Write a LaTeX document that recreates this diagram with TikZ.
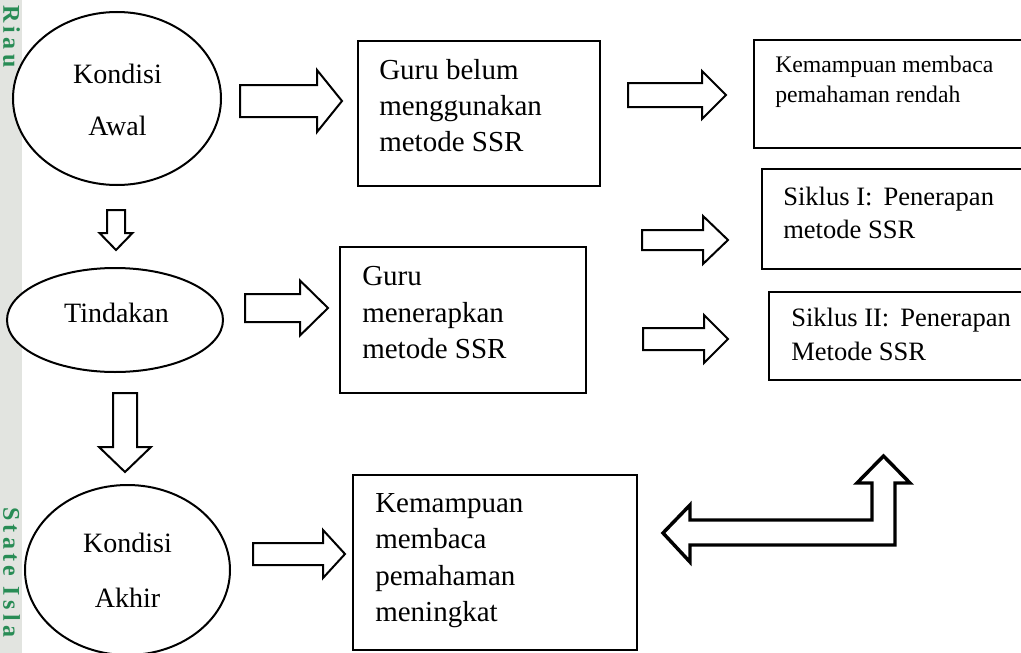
\documentclass[tikz,border=0pt]{standalone}
\usepackage{fontspec}
\setmainfont{Liberation Serif}
\usetikzlibrary{shapes.geometric,calc}
\definecolor{wmgreen}{RGB}{40,140,85}
\definecolor{wmgray}{RGB}{226,228,224}
\tikzset{
  el/.style={draw, ellipse, line width=1.5pt, inner sep=0pt, fill=white},
  box/.style={draw, rectangle, line width=1.5pt, inner sep=0pt, fill=white},
  barrow/.style={draw, line width=1.5pt, fill=white, line join=miter},
  bigarrow/.style={draw, line width=2.6pt, fill=white, line join=miter},
  txt/.style={inner sep=0pt, align=left, anchor=north west},
  ctxt/.style={inner sep=0pt, align=center, anchor=north},
  wm/.style={inner sep=0pt, rotate=-90, anchor=west, text=wmgreen,
    font=\fontsize{18pt}{18pt}\selectfont\bfseries\addfontfeatures{LetterSpace=18}}
}
% right-pointing block arrow: start, tip, shaft half, head half, head length
\newcommand\rblock[5]{%
  \draw[barrow] ($(#1)+(0,-#3)$) -- ($(#2)+(-#5,-#3)$) -- ($(#2)+(-#5,-#4)$) -- (#2)
    -- ($(#2)+(-#5,#4)$) -- ($(#2)+(-#5,#3)$) -- ($(#1)+(0,#3)$) -- cycle;}
% down-pointing block arrow
\newcommand\dblock[5]{%
  \draw[barrow] ($(#1)+(-#3,0)$) -- ($(#2)+(-#3,-#5)$) -- ($(#2)+(-#4,-#5)$) -- (#2)
    -- ($(#2)+(#4,-#5)$) -- ($(#2)+(#3,-#5)$) -- ($(#1)+(#3,0)$) -- cycle;}
\begin{document}
\begin{tikzpicture}[x=0.75pt, y=-0.75pt]
\clip (0,0) rectangle (1021,653);
\fill[white] (0,0) rectangle (1021,653);
% left edge strip
\fill[wmgray] (0,0) rectangle (22,653);
\node[wm] (wmriau) at (11.5,5) {Riau};
\node[wm] (wmstate) at (11.5,507) {State Isla};

% ellipses
\node[el, minimum width=156pt, minimum height=129.75pt] (awal) at (117,98.5) {};
\node[el, minimum width=162pt, minimum height=78pt] (tind) at (115,320) {};
\node[el, minimum width=153.75pt, minimum height=127.5pt] (akhir) at (127.5,570) {};
\node[ctxt, font=\fontsize{21pt}{39pt}\selectfont] (awalt) at (117.5,63.5) {Kondisi\\Awal};
\node[ctxt, font=\fontsize{21pt}{39pt}\selectfont] (tindt) at (116.5,302.5) {Tindakan};
\node[ctxt, font=\fontsize{21pt}{41.25pt}\selectfont] (akhirt) at (127.5,533) {Kondisi\\Akhir};

% boxes
\node[box, minimum width=181.5pt, minimum height=108.75pt] (belum) at (479,113.5) {};
\node[box, minimum width=184.5pt, minimum height=109.5pt] (terap) at (463,320) {};
\node[box, minimum width=213pt, minimum height=131.25pt] (tingkat) at (495,562.5) {};
\node[box, minimum width=214.5pt, minimum height=81pt] (rendah) at (897,94) {};
\node[box, minimum width=208.5pt, minimum height=75pt] (sik1) at (901,219) {};
\node[box, minimum width=203.25pt, minimum height=66pt] (sik2) at (904.5,336) {};

\node[txt, font=\fontsize{21.75pt}{27pt}\selectfont] (belumt) at (379,59)
  {Guru belum\\menggunakan\\metode SSR};
\node[txt, font=\fontsize{21.75pt}{27.2pt}\selectfont] (terapt) at (362,266.5)
  {Guru\\menerapkan\\metode SSR};
\node[txt, font=\fontsize{21.75pt}{27.4pt}\selectfont] (tingkatt) at (375,493)
  {Kemampuan\\membaca\\pemahaman\\meningkat};
\node[txt, font=\fontsize{17.8pt}{22.5pt}\selectfont] (rendaht) at (775,55.5)
  {Kemampuan membaca\\pemahaman rendah};
\node[txt, font=\fontsize{19.9pt}{24.5pt}\selectfont] (sik1t) at (783,187)
  {Siklus I:\, Penerapan\\metode SSR};
\node[txt, font=\fontsize{19.9pt}{25.5pt}\selectfont] (sik2t) at (791,308)
  {Siklus II:\, Penerapan\\Metode SSR};

% block arrows
\coordinate (a1s) at (240,101);  \coordinate (a1t) at (342,101);
\coordinate (a2s) at (628,95);   \coordinate (a2t) at (726,95);
\coordinate (a3s) at (642,240);  \coordinate (a3t) at (728,240);
\coordinate (a4s) at (643,339);  \coordinate (a4t) at (728,339);
\coordinate (a5s) at (245,308);  \coordinate (a5t) at (328,308);
\coordinate (a6s) at (253,554);  \coordinate (a6t) at (345,554);
\coordinate (d1s) at (116,210);  \coordinate (d1t) at (116,250);
\coordinate (d2s) at (125,393);  \coordinate (d2t) at (125,472);
\rblock{a1s}{a1t}{16}{31}{25}
\rblock{a2s}{a2t}{12}{24}{24}
\rblock{a3s}{a3t}{10}{24}{25}
\rblock{a4s}{a4t}{11}{24}{24}
\rblock{a5s}{a5t}{14}{27.5}{28}
\rblock{a6s}{a6t}{11}{24}{22}
\dblock{d1s}{d1t}{9}{16.5}{17}
\dblock{d2s}{d2t}{12}{26}{25}

% bent double-headed block arrow
\coordinate (bl) at (663,533);
\coordinate (bu) at (883.5,456);
\draw[bigarrow] (bl) -- (690,505) -- (690,520) -- (872,520) -- (872,483) -- (857,483)
  -- (bu) -- (910,483) -- (895,483) -- (895,545) -- (690,545) -- (690,562) -- cycle;
\end{tikzpicture}
\end{document}
